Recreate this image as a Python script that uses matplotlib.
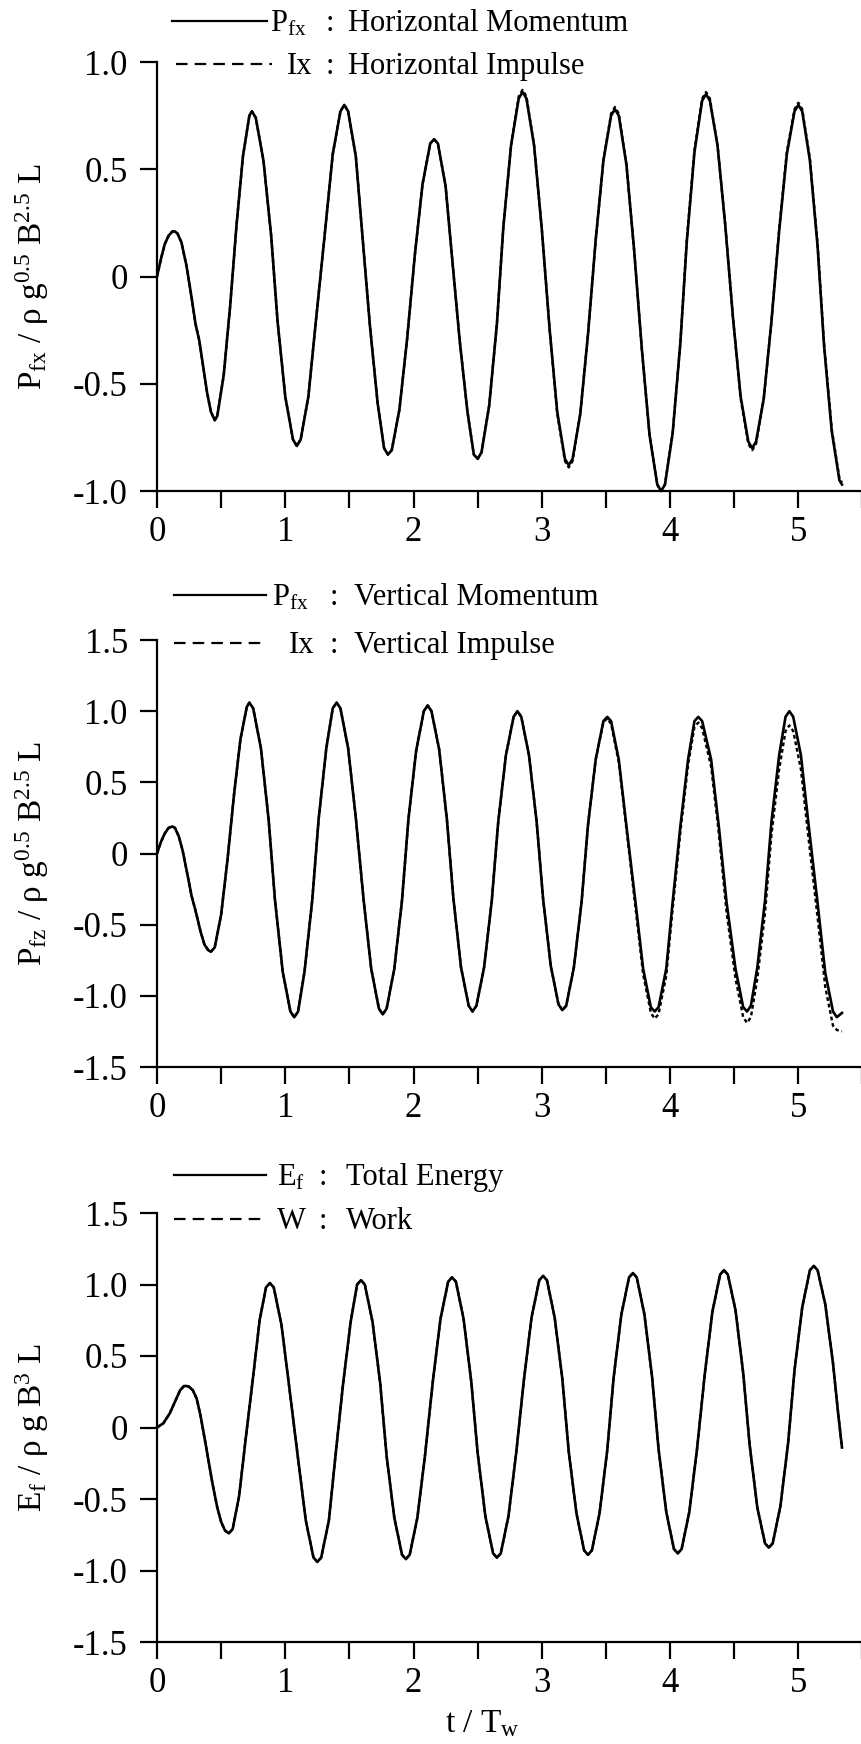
import matplotlib
matplotlib.use('Agg')
import matplotlib.pyplot as plt
from matplotlib.lines import Line2D

plt.rcParams['font.family'] = ['Liberation Serif', 'DejaVu Serif']
plt.rcParams['mathtext.fontset'] = 'custom'
plt.rcParams['mathtext.rm'] = 'Liberation Serif'
plt.rcParams['mathtext.it'] = 'Liberation Serif:italic'
plt.rcParams['mathtext.bf'] = 'Liberation Serif:bold'

# ---------------- data ----------------
# Panel 1: horizontal momentum (solid) and horizontal impulse (dashed)
pfx_t = [0.00, 0.03, 0.06, 0.09, 0.12, 0.14, 0.16, 0.19, 0.23, 0.27, 0.30, 0.33, 0.36, 0.39, 0.42, 0.45,
         0.47, 0.52, 0.57, 0.62, 0.67, 0.72, 0.74,
         0.77, 0.83, 0.89, 0.94, 1.00, 1.06, 1.09,
         1.12, 1.18, 1.24, 1.31, 1.37, 1.43, 1.46,
         1.49, 1.55, 1.60, 1.66, 1.72, 1.77, 1.80,
         1.83, 1.89, 1.95, 2.01, 2.07, 2.13, 2.16,
         2.19, 2.25, 2.30, 2.36, 2.42, 2.47, 2.50,
         2.53, 2.59, 2.65, 2.70, 2.76, 2.82, 2.85,
         2.88, 2.94, 3.00, 3.06, 3.12, 3.18, 3.21,
         3.24, 3.30, 3.36, 3.42, 3.48, 3.54, 3.57,
         3.60, 3.66, 3.72, 3.78, 3.84, 3.90, 3.93,
         3.96, 4.02, 4.08, 4.13, 4.19, 4.25, 4.28,
         4.31, 4.37, 4.43, 4.49, 4.55, 4.61, 4.64,
         4.67, 4.73, 4.79, 4.85, 4.91, 4.97, 5.00,
         5.03, 5.09, 5.15, 5.20, 5.26, 5.32, 5.34]
pfx_v = [0.00, 0.08, 0.15, 0.19, 0.21, 0.21, 0.20, 0.16, 0.05, -0.10, -0.22, -0.30, -0.42, -0.54, -0.63, -0.67,
         -0.65, -0.46, -0.14, 0.24, 0.56, 0.75, 0.77,
         0.74, 0.54, 0.19, -0.21, -0.56, -0.76, -0.79,
         -0.76, -0.56, -0.20, 0.21, 0.57, 0.77, 0.80,
         0.77, 0.56, 0.20, -0.23, -0.59, -0.80, -0.83,
         -0.81, -0.62, -0.29, 0.10, 0.43, 0.62, 0.64,
         0.62, 0.42, 0.09, -0.30, -0.63, -0.83, -0.85,
         -0.82, -0.60, -0.22, 0.23, 0.61, 0.83, 0.86,
         0.83, 0.61, 0.22, -0.24, -0.63, -0.85, -0.88,
         -0.85, -0.64, -0.27, 0.17, 0.54, 0.75, 0.78,
         0.75, 0.52, 0.12, -0.34, -0.74, -0.97, -1.00,
         -0.97, -0.73, -0.31, 0.16, 0.58, 0.82, 0.85,
         0.82, 0.61, 0.24, -0.19, -0.56, -0.77, -0.80,
         -0.77, -0.57, -0.21, 0.21, 0.57, 0.77, 0.80,
         0.77, 0.54, 0.14, -0.32, -0.72, -0.95, -0.97]
ix_t = pfx_t
ix_v = [0.00, 0.08, 0.15, 0.19, 0.21, 0.21, 0.20, 0.16, 0.05, -0.10, -0.22, -0.30, -0.42, -0.54, -0.63, -0.67,
        -0.65, -0.46, -0.14, 0.24, 0.56, 0.75, 0.77,
        0.74, 0.54, 0.19, -0.21, -0.56, -0.76, -0.79,
        -0.76, -0.56, -0.20, 0.21, 0.57, 0.77, 0.80,
        0.77, 0.56, 0.20, -0.23, -0.59, -0.80, -0.83,
        -0.81, -0.62, -0.29, 0.10, 0.43, 0.62, 0.64,
        0.62, 0.42, 0.09, -0.30, -0.63, -0.83, -0.85,
        -0.82, -0.60, -0.22, 0.23, 0.61, 0.84, 0.87,
        0.84, 0.61, 0.22, -0.24, -0.64, -0.86, -0.89,
        -0.86, -0.64, -0.27, 0.17, 0.54, 0.76, 0.79,
        0.76, 0.52, 0.12, -0.34, -0.74, -0.97, -1.00,
        -0.97, -0.73, -0.31, 0.17, 0.59, 0.83, 0.86,
        0.83, 0.61, 0.24, -0.19, -0.57, -0.78, -0.81,
        -0.78, -0.57, -0.21, 0.22, 0.58, 0.78, 0.81,
        0.78, 0.55, 0.15, -0.31, -0.71, -0.94, -0.96]

# Panel 2: vertical momentum (solid) and vertical impulse (dashed)
pfz_t = [0.00, 0.03, 0.06, 0.09, 0.12, 0.14, 0.17, 0.20, 0.24, 0.27, 0.30, 0.34, 0.37, 0.40, 0.42,
         0.45, 0.50, 0.55, 0.60, 0.65, 0.70, 0.72,
         0.75, 0.81, 0.87, 0.92, 0.98, 1.04, 1.07,
         1.10, 1.15, 1.21, 1.26, 1.32, 1.37, 1.40,
         1.43, 1.49, 1.55, 1.61, 1.67, 1.73, 1.76,
         1.79, 1.85, 1.91, 1.96, 2.02, 2.08, 2.11,
         2.14, 2.20, 2.26, 2.31, 2.37, 2.43, 2.46,
         2.49, 2.55, 2.61, 2.66, 2.72, 2.78, 2.81,
         2.84, 2.90, 2.96, 3.01, 3.07, 3.13, 3.16,
         3.19, 3.25, 3.31, 3.36, 3.42, 3.48, 3.51,
         3.54, 3.60, 3.66, 3.73, 3.79, 3.85, 3.88,
         3.91, 3.97, 4.02, 4.08, 4.14, 4.19, 4.22,
         4.25, 4.32, 4.38, 4.44, 4.51, 4.57, 4.60,
         4.63, 4.68, 4.74, 4.79, 4.85, 4.90, 4.93,
         4.96, 5.02, 5.08, 5.15, 5.21, 5.27, 5.30, 5.34]
pfz_v = [0.00, 0.08, 0.14, 0.18, 0.19, 0.18, 0.12, 0.02, -0.16, -0.30, -0.40, -0.55, -0.64, -0.68, -0.69,
         -0.66, -0.43, -0.04, 0.41, 0.80, 1.03, 1.06,
         1.02, 0.74, 0.24, -0.33, -0.83, -1.11, -1.15,
         -1.11, -0.83, -0.33, 0.24, 0.74, 1.02, 1.06,
         1.02, 0.74, 0.25, -0.32, -0.81, -1.09, -1.13,
         -1.09, -0.81, -0.33, 0.24, 0.72, 1.00, 1.04,
         1.00, 0.73, 0.24, -0.31, -0.80, -1.07, -1.11,
         -1.07, -0.80, -0.33, 0.22, 0.69, 0.96, 1.00,
         0.96, 0.69, 0.22, -0.32, -0.79, -1.06, -1.10,
         -1.07, -0.80, -0.34, 0.20, 0.66, 0.93, 0.96,
         0.93, 0.66, 0.19, -0.34, -0.81, -1.08, -1.11,
         -1.08, -0.81, -0.34, 0.19, 0.66, 0.93, 0.96,
         0.93, 0.66, 0.19, -0.34, -0.81, -1.08, -1.11,
         -1.07, -0.80, -0.33, 0.22, 0.69, 0.96, 1.00,
         0.96, 0.69, 0.20, -0.35, -0.84, -1.11, -1.15, -1.12]
iz_t = pfz_t
iz_v = [0.00, 0.08, 0.14, 0.18, 0.19, 0.18, 0.12, 0.02, -0.16, -0.30, -0.40, -0.55, -0.64, -0.68, -0.69,
        -0.66, -0.43, -0.04, 0.41, 0.80, 1.03, 1.06,
        1.02, 0.74, 0.24, -0.33, -0.83, -1.11, -1.15,
        -1.11, -0.83, -0.33, 0.24, 0.74, 1.02, 1.06,
        1.02, 0.74, 0.25, -0.32, -0.81, -1.09, -1.13,
        -1.09, -0.81, -0.33, 0.24, 0.72, 1.00, 1.04,
        1.00, 0.73, 0.24, -0.31, -0.80, -1.07, -1.11,
        -1.07, -0.80, -0.33, 0.22, 0.69, 0.96, 1.00,
        0.96, 0.69, 0.22, -0.32, -0.79, -1.06, -1.10,
        -1.07, -0.80, -0.34, 0.20, 0.66, 0.92, 0.95,
        0.91, 0.64, 0.17, -0.38, -0.85, -1.12, -1.16,
        -1.13, -0.86, -0.39, 0.15, 0.62, 0.89, 0.92,
        0.88, 0.61, 0.14, -0.41, -0.88, -1.15, -1.19,
        -1.15, -0.88, -0.42, 0.13, 0.59, 0.86, 0.90,
        0.86, 0.59, 0.10, -0.45, -0.94, -1.21, -1.24, -1.25]

# Panel 3: total energy (solid) and work (dashed, coincides with energy)
ef_t = [0.00, 0.05, 0.10, 0.15, 0.18, 0.21, 0.23, 0.25, 0.28, 0.31, 0.34, 0.38, 0.43, 0.47, 0.50, 0.53, 0.56,
        0.59, 0.64, 0.69, 0.75, 0.80, 0.85, 0.88,
        0.91, 0.97, 1.03, 1.10, 1.16, 1.22, 1.25,
        1.28, 1.34, 1.39, 1.45, 1.51, 1.56, 1.59,
        1.62, 1.68, 1.74, 1.79, 1.85, 1.91, 1.94,
        1.97, 2.03, 2.09, 2.15, 2.21, 2.27, 2.30,
        2.33, 2.39, 2.45, 2.50, 2.56, 2.62, 2.65,
        2.68, 2.74, 2.80, 2.86, 2.92, 2.98, 3.01,
        3.04, 3.10, 3.16, 3.21, 3.27, 3.33, 3.36,
        3.39, 3.45, 3.51, 3.56, 3.62, 3.68, 3.71,
        3.74, 3.80, 3.86, 3.91, 3.97, 4.03, 4.06,
        4.09, 4.15, 4.21, 4.27, 4.33, 4.39, 4.42,
        4.45, 4.51, 4.57, 4.62, 4.68, 4.74, 4.77,
        4.80, 4.86, 4.92, 4.97, 5.03, 5.09, 5.12,
        5.15, 5.21, 5.27, 5.31, 5.34]
ef_v = [0.00, 0.03, 0.10, 0.20, 0.26, 0.29, 0.29, 0.285, 0.26, 0.20, 0.08, -0.12, -0.38, -0.56, -0.66, -0.72, -0.74,
        -0.71, -0.48, -0.09, 0.36, 0.75, 0.98, 1.01,
        0.98, 0.72, 0.29, -0.22, -0.65, -0.91, -0.94,
        -0.91, -0.65, -0.21, 0.30, 0.74, 1.00, 1.03,
        1.00, 0.74, 0.31, -0.20, -0.63, -0.89, -0.92,
        -0.89, -0.63, -0.19, 0.32, 0.76, 1.02, 1.05,
        1.02, 0.76, 0.32, -0.18, -0.62, -0.88, -0.91,
        -0.88, -0.62, -0.18, 0.33, 0.77, 1.03, 1.06,
        1.03, 0.77, 0.34, -0.17, -0.60, -0.86, -0.89,
        -0.86, -0.60, -0.16, 0.35, 0.79, 1.05, 1.08,
        1.05, 0.79, 0.35, -0.15, -0.59, -0.85, -0.88,
        -0.85, -0.59, -0.15, 0.37, 0.81, 1.07, 1.10,
        1.07, 0.82, 0.38, -0.12, -0.56, -0.81, -0.84,
        -0.81, -0.55, -0.11, 0.40, 0.84, 1.10, 1.13,
        1.10, 0.86, 0.45, 0.10, -0.14]
w_t = ef_t
w_v = list(ef_v)

x_ticks = [0, 1, 2, 3, 4, 5]
x_tick_labels = ['0', '1', '2', '3', '4', '5']
x_minor_ticks = [0.5, 1.5, 2.5, 3.5, 4.5, 5.5]
y1_ticks = [-1.0, -0.5, 0.0, 0.5, 1.0]
y1_tick_labels = ['-1.0', '-0.5', '0', '0.5', '1.0']
y23_ticks = [-1.5, -1.0, -0.5, 0.0, 0.5, 1.0, 1.5]
y23_tick_labels = ['-1.5', '-1.0', '-0.5', '0', '0.5', '1.0', '1.5']

# ---------------- figure ----------------
W, H = 862, 1744
fig = plt.figure(figsize=(W / 100, H / 100), dpi=100)

LW_AX = 1.6
TICK_FS = 25
LEG_FS = 22
LAB_FS = 24


def fx(x):
    return x / W


def fy(y):
    return 1 - y / H


panels = [
    dict(top=62, bot=491, ylim=(-1.0, 1.0), yt=y1_ticks, ytl=y1_tick_labels,
         s=(pfx_t, pfx_v), d=(ix_t, ix_v),
         ylabel=r'$\mathrm{P_{fx}}$ / ρ g$^{0.5}$ B$^{2.5}$ L',
         leg=[dict(y=21, x0=172, x1=267, ls='-', sym=r'$\mathrm{P_{fx}}$', xs=270,
                   xc=330, xt=348, txt='Horizontal Momentum'),
              dict(y=64, x0=176, x1=272, ls='--', sym='Ix', xs=287,
                   xc=330, xt=348, txt='Horizontal Impulse')]),
    dict(top=640, bot=1067, ylim=(-1.5, 1.5), yt=y23_ticks, ytl=y23_tick_labels,
         s=(pfz_t, pfz_v), d=(iz_t, iz_v),
         ylabel=r'$\mathrm{P_{fz}}$ / ρ g$^{0.5}$ B$^{2.5}$ L',
         leg=[dict(y=595, x0=174, x1=266, ls='-', sym=r'$\mathrm{P_{fx}}$', xs=272,
                   xc=334, xt=354, txt='Vertical Momentum'),
              dict(y=643, x0=174, x1=266, ls='--', sym='Ix', xs=289,
                   xc=334, xt=354, txt='Vertical Impulse')]),
    dict(top=1213, bot=1642, ylim=(-1.5, 1.5), yt=y23_ticks, ytl=y23_tick_labels,
         s=(ef_t, ef_v), d=(w_t, w_v),
         ylabel=r'$\mathrm{E_{f}}$ / ρ g B$^{3}$ L',
         leg=[dict(y=1175, x0=174, x1=266, ls='-', sym=r'$\mathrm{E_{f}}$', xs=277,
                   xc=323, xt=346, txt='Total Energy'),
              dict(y=1219, x0=174, x1=266, ls='--', sym='W', xs=277,
                   xc=323, xt=346, txt='Work')]),
]

for p in panels:
    ax = fig.add_axes([fx(157), fy(p['bot']), 705.5 / W, (p['bot'] - p['top']) / H])
    ax.plot(p['s'][0], p['s'][1], color='black', lw=1.9, clip_on=False,
            solid_joinstyle='round')
    ax.plot(p['d'][0], p['d'][1], color='black', lw=1.7, ls=(0, (1.6, 1.2)),
            clip_on=False)
    ax.set_xlim(0, 5.5)
    ax.set_ylim(*p['ylim'])
    for s in ('top', 'right'):
        ax.spines[s].set_visible(False)
    for s in ('left', 'bottom'):
        ax.spines[s].set_linewidth(LW_AX)
    ax.set_xticks(x_ticks)
    ax.set_xticklabels(x_tick_labels)
    ax.set_xticks(x_minor_ticks, minor=True)
    ax.set_yticks(p['yt'])
    ax.set_yticklabels(p['ytl'])
    ax.tick_params(axis='both', which='both', direction='out', length=12,
                   width=LW_AX, labelsize=TICK_FS)
    ax.tick_params(axis='x', pad=6)
    ax.tick_params(axis='y', pad=9)
    ymid = (p['top'] + p['bot']) / 2
    fig.text(fx(32), fy(ymid), p['ylabel'], rotation=90, ha='center',
             va='center', fontsize=LAB_FS)
    for e in p['leg']:
        ls = '-' if e['ls'] == '-' else (0, (5.2, 3.2))
        fig.add_artist(Line2D([fx(e['x0']), fx(e['x1'])], [fy(e['y']), fy(e['y'])],
                              transform=fig.transFigure, color='black', lw=1.6,
                              linestyle=ls))
        base = e['y'] + 10
        fig.text(fx(e['xs']), fy(base), e['sym'], ha='left', va='baseline',
                 fontsize=LEG_FS)
        fig.text(fx(e['xc']), fy(base), ':', ha='center', va='baseline',
                 fontsize=LEG_FS)
        fig.text(fx(e['xt']), fy(base), e['txt'], ha='left', va='baseline',
                 fontsize=LEG_FS)

fig.text(fx(482), fy(1732), r't / T$_{\mathrm{w}}$', ha='center', va='baseline',
         fontsize=LAB_FS)

fig.savefig('out.png', dpi=100)
